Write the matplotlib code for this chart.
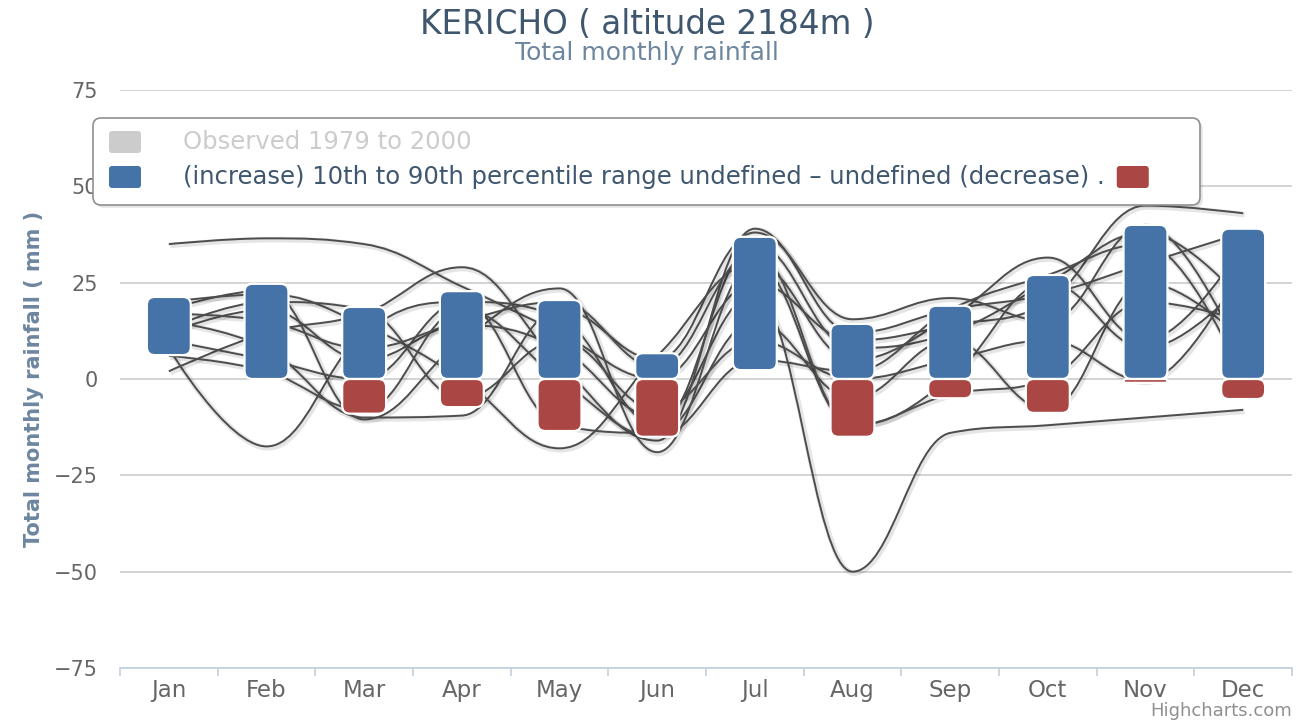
import matplotlib
matplotlib.use('Agg')
import matplotlib.pyplot as plt
import matplotlib.patheffects as pe
from matplotlib.path import Path
from matplotlib.patches import PathPatch, FancyBboxPatch

# --------------------- data
months = ['Jan', 'Feb', 'Mar', 'Apr', 'May', 'Jun', 'Jul', 'Aug', 'Sep', 'Oct', 'Nov', 'Dec']

# percentile range bars (increase = blue, decrease = red)
blue_low = [6.2, 0, 0, 0, 0, 0, 2.3, 0, 0, 0, 0, 0]
blue_high = [21.3, 24.7, 18.7, 22.8, 20.5, 6.7, 36.9, 14.3, 19.0, 27.0, 40.0, 39.0]
red_low = [0, 0, -9.0, -7.3, -13.5, -15.0, 0, -15.0, -5.0, -8.8, -1.0, -5.2]

# model change curves
model_a = [35, 36.5, 35, 24, 12, 0, 25, 10, 14, 20, 45, 43]
model_b = [12, 18, 5, 14, 8, -10, 22, -50, -14, -12, -10, -8]
model_c = [8, -17.5, 12, 20, 16, -12, 35, 8, 12, 25, 38, 20]
model_d = [2, 12, 17, 29, 4, -16, 39, 12, 18, 22, 30, 38]
model_e = [18, 23, -10.5, 10, 23.5, -19, 30, 5, 16, 31.5, 10, 35]
model_f = [15, 8, -10, -9.5, 18, 5, 38, 15.5, 21, 15, 40, 5]
model_g = [20, 22, 14, 0, -18, 6, 30, -12, 0, 25, 8, 25]
model_h = [10, 5, 0, 20, -12, -14, 15, -5, 10, -8, 25, 10]
model_i = [13, 20, 18, -5, 10, -8, 10, 0, 5, 10, -0.5, 30]
model_j = [17, 15, 8, 15, 20, 3, 33, -12, -4, 0, 20, 15]
model_k = [6, 2, -8, 18, 0, -15, 5, 2, 18, 27, 35, 0]
models = [model_a, model_b, model_c, model_d, model_e, model_f,
          model_g, model_h, model_i, model_j, model_k]

title = 'KERICHO ( altitude 2184m )'
subtitle = 'Total monthly rainfall'
ylabel = 'Total monthly rainfall ( mm )'
legend_hidden = 'Observed 1979 to 2000'
legend_main = '(increase) 10th to 90th percentile range undefined \u2013 undefined (decrease) .'

blue = '#4572a7'
red = '#aa4643'

W, H = 1307, 722


def fx(px):
    return px / W


def fy(py):
    return 1 - py / H


def hc_spline(xs, ys):
    # same smoothing as the highcharts spline series
    n = len(xs)
    lc, rc = [], []
    for i in range(n):
        px, py = xs[i], ys[i]
        lcx, lcy, rcx, rcy = px, py, px, py
        if 0 < i < n - 1:
            lx, ly = xs[i - 1], ys[i - 1]
            nx, ny = xs[i + 1], ys[i + 1]
            lcx = (1.5 * px + lx) / 2.5
            lcy = (1.5 * py + ly) / 2.5
            rcx = (1.5 * px + nx) / 2.5
            rcy = (1.5 * py + ny) / 2.5
            corr = (rcy - lcy) * (rcx - px) / (rcx - lcx) + py - rcy
            lcy += corr
            rcy += corr
            if lcy > ly and lcy > py:
                lcy = max(ly, py)
                rcy = 2 * py - lcy
            elif lcy < ly and lcy < py:
                lcy = min(ly, py)
                rcy = 2 * py - lcy
            if rcy > ny and rcy > py:
                rcy = max(ny, py)
                lcy = 2 * py - rcy
            elif rcy < ny and rcy < py:
                rcy = min(ny, py)
                lcy = 2 * py - rcy
        lc.append((lcx, lcy))
        rc.append((rcx, rcy))
    verts = [(xs[0], ys[0])]
    codes = [Path.MOVETO]
    for i in range(1, n):
        verts += [rc[i - 1], lc[i], (xs[i], ys[i])]
        codes += [Path.CURVE4] * 3
    return Path(verts, codes)


fig = plt.figure(figsize=(W / 100, H / 100), dpi=100)
ax = fig.add_axes([fx(120), fy(668), (1292 - 120) / W, (668 - 90) / H])
ax.set_xlim(-0.5, 11.5)
ax.set_ylim(-75, 75)

# grid / axes
ax.set_yticks(range(-75, 76, 25))
ax.yaxis.grid(True, color='#c8c8c8', lw=1.1)
ax.set_axisbelow(True)
for s in ['top', 'right', 'left']:
    ax.spines[s].set_visible(False)
ax.spines['bottom'].set_color('#c0d0e0')
ax.spines['bottom'].set_linewidth(1.2)
ax.set_xticks(range(12))
ax.set_xticklabels(months)
ax.set_xticks([i - 0.5 for i in range(13)], minor=True)
ax.tick_params(axis='x', which='major', length=0, pad=8, labelsize=16.5, labelcolor='#666666')
ax.tick_params(axis='x', which='minor', length=6, color='#c0d0e0', width=1.2)
ax.tick_params(axis='y', length=0, pad=16, labelsize=15, labelcolor='#666666')
ax.set_ylabel(ylabel, fontsize=15, color='#6d869f', fontweight='bold', labelpad=7)

# model curves
xs = list(range(12))
for m in models:
    patch = PathPatch(hc_spline(xs, m), facecolor='none', edgecolor='#4d4d4d', lw=1.4, zorder=2)
    patch.set_path_effects([pe.SimpleLineShadow(offset=(1, -1), shadow_color='black', alpha=0.1, linewidth=4),
                            pe.Normal()])
    ax.add_patch(patch)

# rounded bars
fig.canvas.draw()
p0 = ax.transData.transform((0, 0))
p1 = ax.transData.transform((1, 1))
aspect = (p1[0] - p0[0]) / (p1[1] - p0[1])
bw = 0.45
rad = 8.0 / (p1[0] - p0[0])


def rounded_bar(x, y0, y1, color):
    h = y1 - y0
    if h <= 0:
        return
    r = min(rad, bw / 2, h / aspect / 2)
    box = FancyBboxPatch((x - bw / 2, y0), bw, h,
                         boxstyle='round,pad=0,rounding_size=%f' % r,
                         mutation_aspect=aspect, facecolor=color,
                         edgecolor='white', lw=1.6, zorder=3)
    ax.add_patch(box)


for i in range(12):
    rounded_bar(i, blue_low[i], blue_high[i], blue)
    rounded_bar(i, red_low[i], 0, red)

# titles
fig.text(0.495, fy(25), title, ha='center', va='center', fontsize=23.5, color='#3e576f')
fig.text(0.495, fy(53), subtitle, ha='center', va='center', fontsize=18, color='#6d869f')
fig.text(fx(1292), fy(711), 'Highcharts.com', ha='right', va='center', fontsize=13, color='#909090')

# legend box
lg = FancyBboxPatch((fx(93), fy(205)), fx(1200 - 93), (205 - 118) / H,
                    boxstyle='round,pad=0,rounding_size=%f' % (8 / W),
                    mutation_aspect=W / H, transform=fig.transFigure,
                    facecolor='white', edgecolor='#909090', lw=1.2, zorder=5)
lg.set_path_effects([pe.SimplePatchShadow(offset=(2, -2), alpha=0.15), pe.Normal()])
fig.add_artist(lg)


def legend_square(x0, y0, color):
    sq = FancyBboxPatch((fx(x0), fy(y0 + 22)), fx(32), 22 / H,
                        boxstyle='round,pad=0,rounding_size=%f' % (3 / W),
                        mutation_aspect=W / H, transform=fig.transFigure,
                        facecolor=color, edgecolor='none', zorder=6)
    fig.add_artist(sq)


legend_square(109, 131, '#cccccc')
fig.text(fx(183), fy(142), legend_hidden, ha='left', va='center', fontsize=17.5, color='#cccccc', zorder=6)
legend_square(109, 166, blue)
t = fig.text(fx(183), fy(177), legend_main, ha='left', va='center', fontsize=17.5, color='#3e576f', zorder=6)
fig.canvas.draw()
bb = t.get_window_extent()
legend_square(bb.x1 + 12, 166, red)

fig.savefig('out.png', dpi=100)
